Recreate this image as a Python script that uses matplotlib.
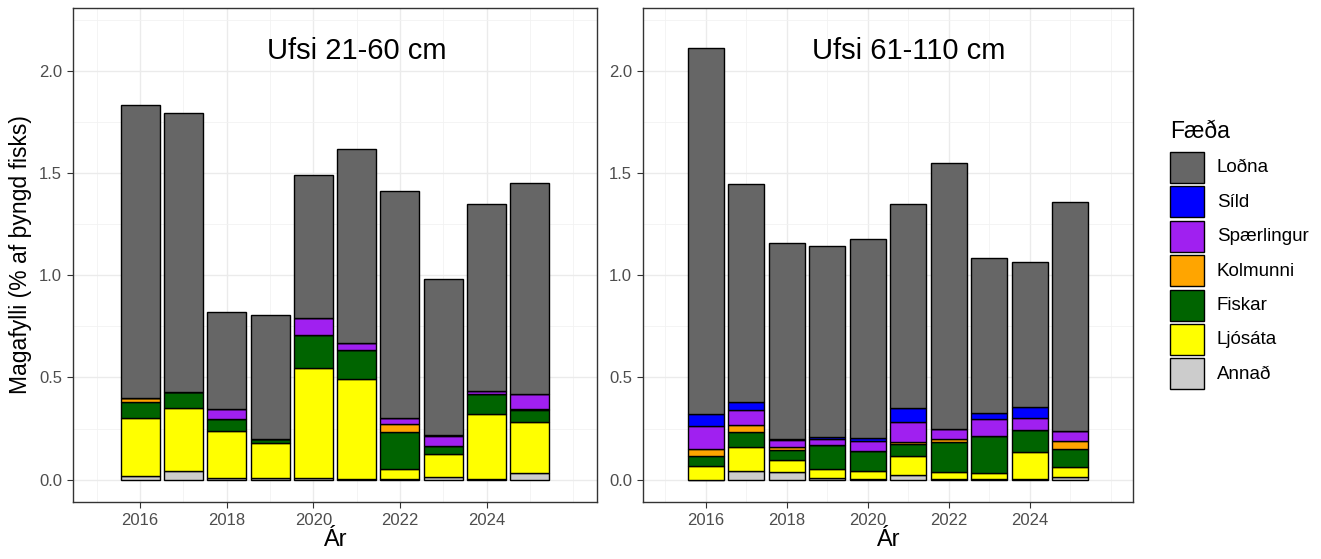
import matplotlib
matplotlib.use("Agg")
import matplotlib.pyplot as plt
from matplotlib.patches import Rectangle
import numpy as np

plt.rcParams["font.family"] = ["Liberation Sans", "DejaVu Sans"]

# ── Data ──────────────────────────────────────────────────────────────────────

years = [2016, 2017, 2018, 2019, 2020, 2021, 2022, 2023, 2024, 2025]

# Magafylli (% af þyngd fisks), stacked bottom -> top
small_annad      = [0.016, 0.041, 0.010, 0.010, 0.008, 0.005, 0.005, 0.013, 0.005, 0.033]
small_ljosata    = [0.286, 0.309, 0.230, 0.170, 0.540, 0.490, 0.049, 0.111, 0.316, 0.247]
small_fiskar     = [0.076, 0.079, 0.058, 0.020, 0.162, 0.141, 0.179, 0.042, 0.099, 0.059]
small_kolmunni   = [0.022, 0.000, 0.000, 0.000, 0.000, 0.000, 0.039, 0.000, 0.000, 0.008]
small_spaerling  = [0.000, 0.000, 0.049, 0.000, 0.080, 0.035, 0.030, 0.046, 0.012, 0.073]
small_sild       = [0.000, 0.000, 0.000, 0.000, 0.000, 0.000, 0.000, 0.008, 0.000, 0.000]
small_lodna      = [1.435, 1.366, 0.475, 0.607, 0.700, 0.949, 1.111, 0.763, 0.918, 1.032]

large_annad      = [0.000, 0.041, 0.036, 0.008, 0.004, 0.020, 0.005, 0.005, 0.003, 0.013]
large_ljosata    = [0.065, 0.119, 0.062, 0.044, 0.037, 0.097, 0.033, 0.026, 0.131, 0.049]
large_fiskar     = [0.049, 0.073, 0.049, 0.119, 0.101, 0.059, 0.145, 0.184, 0.109, 0.088]
large_kolmunni   = [0.036, 0.034, 0.011, 0.000, 0.000, 0.010, 0.017, 0.000, 0.000, 0.040]
large_spaerling  = [0.110, 0.073, 0.034, 0.028, 0.047, 0.098, 0.049, 0.082, 0.057, 0.048]
large_sild       = [0.060, 0.038, 0.006, 0.011, 0.015, 0.066, 0.000, 0.031, 0.055, 0.000]
large_lodna      = [1.792, 1.069, 0.961, 0.934, 0.974, 1.000, 1.301, 0.758, 0.711, 1.121]

prey_names = ["Annað", "Ljósáta", "Fiskar", "Kolmunni", "Spærlingur", "Síld", "Loðna"]
prey_colors = ["#CCCCCC", "#FFFF00", "#006400", "#FFA500", "#A020F0", "#0000FF", "#666666"]

small_series = [small_annad, small_ljosata, small_fiskar, small_kolmunni,
                small_spaerling, small_sild, small_lodna]
large_series = [large_annad, large_ljosata, large_fiskar, large_kolmunni,
                large_spaerling, large_sild, large_lodna]

# ── Figure ────────────────────────────────────────────────────────────────────

W, H = 1321, 559
fig = plt.figure(figsize=(W / 100, H / 100), dpi=100)


def px_axes(x0, x1, y0, y1):
    """Axes placed by pixel edges (top-left origin)."""
    return fig.add_axes([x0 / W, 1 - y1 / H, (x1 - x0) / W, (y1 - y0) / H])


def draw_panel(ax, series, title, ylabel=None):
    bottom = np.zeros(len(years))
    for vals, col in zip(series, prey_colors):
        vals = np.asarray(vals)
        ax.bar(years, vals, bottom=bottom, width=0.9, color=col,
               edgecolor="black", linewidth=1.0, zorder=3)
        bottom += vals

    ax.set_xlim(2014.45, 2026.55)
    ax.set_ylim(-0.11, 2.31)
    ax.set_xticks([2016, 2018, 2020, 2022, 2024])
    ax.set_yticks([0.0, 0.5, 1.0, 1.5, 2.0])
    ax.set_yticklabels(["0.0", "0.5", "1.0", "1.5", "2.0"])
    ax.set_xticks([2015, 2017, 2019, 2021, 2023, 2025, 2026], minor=True)
    ax.set_yticks([0.25, 0.75, 1.25, 1.75, 2.25], minor=True)

    ax.grid(which="major", color="#EBEBEB", linewidth=1.0, zorder=0)
    ax.grid(which="minor", color="#F2F2F2", linewidth=0.6, zorder=0)
    ax.tick_params(which="major", length=4, width=0.8, color="#333333",
                   labelsize=12, labelcolor="#4D4D4D", pad=4)
    ax.tick_params(which="minor", length=0)
    for sp in ax.spines.values():
        sp.set_color("#333333")
        sp.set_linewidth(1.0)

    ax.text(2021, 2.1, title, ha="center", va="center", fontsize=21, zorder=5)
    ax.set_xlabel("Ár", fontsize=17, labelpad=1)
    if ylabel:
        ax.set_ylabel(ylabel, fontsize=16.5, labelpad=5)


ax1 = px_axes(73, 597, 8, 502)
draw_panel(ax1, small_series, "Ufsi 21-60 cm", "Magafylli (% af þyngd fisks)")

ax2 = px_axes(643, 1133, 8, 502)
draw_panel(ax2, large_series, "Ufsi 61-110 cm")

# ── Legend (top item = last stacked layer) ────────────────────────────────────

lax = px_axes(1160, 1321, 110, 400)
lax.set_xlim(1160, 1321)
lax.set_ylim(400, 110)
lax.axis("off")
lax.text(1170, 132, "Fæða", fontsize=16.5, va="center", ha="left")
for i, (name, col) in enumerate(zip(prey_names[::-1], prey_colors[::-1])):
    y0 = 152 + i * 34.4
    lax.add_patch(Rectangle((1170, y0), 34, 31, facecolor=col,
                            edgecolor="black", linewidth=1.0))
    lax.text(1217, y0 + 16, name, fontsize=13.5, va="center", ha="left")

fig.savefig("out.png", dpi=100, facecolor="white")
